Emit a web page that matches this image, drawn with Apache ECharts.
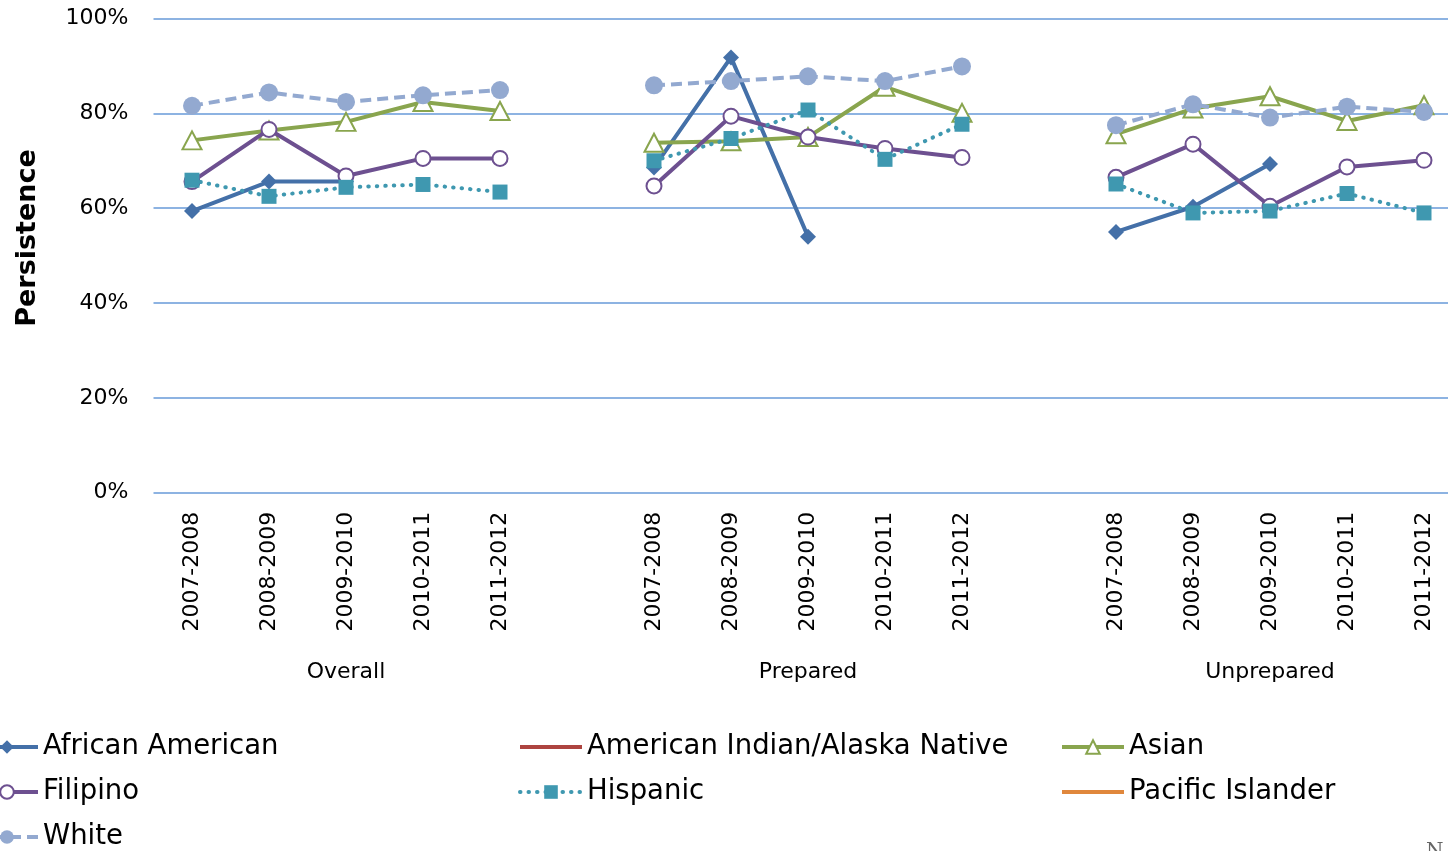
<!DOCTYPE html>
<html>
<head>
<meta charset="utf-8">
<script src="https://cdn.jsdelivr.net/npm/echarts@6/dist/echarts.min.js"></script>
<style>html,body{margin:0;padding:0;background:#fff;}#c{width:1448px;height:851px;}</style>
</head>
<body>
<div id="c"></div>
<script>
// ---- data ----
const groups = ['Overall', 'Prepared', 'Unprepared'];
const years = ['2007-2008', '2008-2009', '2009-2010', '2010-2011', '2011-2012'];
const yTicks = [0, 20, 40, 60, 80, 100];

// values in %, per group (Overall, Prepared, Unprepared)
const africanAmerican = [
  [59.4, 65.6, 65.6, null, null],
  [68.6, 91.8, 54.0, null, null],
  [55.0, 60.3, 69.3, null, null]
];
const americanIndian = [
  [null, null, null, null, null],
  [null, null, null, null, null],
  [null, null, null, null, null]
];
const asian = [
  [74.3, 76.4, 78.2, 82.4, 80.5],
  [73.8, 74.1, 75.0, 85.6, 80.1],
  [75.6, 81.0, 83.6, 78.4, 81.7]
];
const filipino = [
  [65.6, 76.6, 66.8, 70.5, 70.5],
  [64.7, 79.4, 75.0, 72.6, 70.7],
  [66.5, 73.5, 60.4, 68.7, 70.1]
];
const hispanic = [
  [65.9, 62.5, 64.4, 65.0, 63.4],
  [70.0, 74.7, 80.7, 70.3, 77.7],
  [65.1, 59.0, 59.4, 63.1, 59.0]
];
const pacificIslander = [
  [null, null, null, null, null],
  [null, null, null, null, null],
  [null, null, null, null, null]
];
const white = [
  [81.6, 84.4, 82.4, 83.8, 84.9],
  [85.9, 86.8, 87.8, 86.8, 89.9],
  [77.5, 81.9, 79.1, 81.4, 80.3]
];

// ---- build category axis with a blank slot between groups ----
const categories = [];
const groupLabels = [];
groups.forEach((g, gi) => {
  years.forEach((y, yi) => {
    categories.push(y);
    groupLabels.push(yi === Math.floor(years.length / 2) ? g : '');
  });
  if (gi < groups.length - 1) { categories.push(''); groupLabels.push(''); }
});
function flat(arr) {
  const out = [];
  arr.forEach((grp, gi) => {
    grp.forEach(v => out.push(v));
    if (gi < arr.length - 1) out.push(null);
  });
  return out;
}

const FONT = 'DejaVu Sans';
const C = {
  aa: '#4470a8', ai: '#ad4440', as: '#89a54e', fi: '#6d5090',
  hi: '#3f98b0', pi: '#e0873c', wh: '#93a9d0'
};

const chart = echarts.init(document.getElementById('c'), null, {renderer: 'canvas'});
const LW = 4;
const series = [
  {name: 'African American', data: flat(africanAmerican), color: C.aa, symbol: 'diamond', symbolSize: 16,
   lineStyle: {width: LW, color: C.aa}, itemStyle: {color: C.aa}, z: 1},
  {name: 'American Indian/Alaska Native', data: flat(americanIndian), color: C.ai, symbol: 'none',
   lineStyle: {width: LW, color: C.ai}, itemStyle: {color: C.ai}, z: 2},
  {name: 'Asian', data: flat(asian), color: C.as, symbol: 'triangle', symbolSize: [19, 18],
   lineStyle: {width: LW, color: C.as}, itemStyle: {color: '#fff', borderColor: C.as, borderWidth: 2}, z: 3},
  {name: 'Filipino', data: flat(filipino), color: C.fi, symbol: 'circle', symbolSize: 15,
   lineStyle: {width: LW, color: C.fi}, itemStyle: {color: '#fff', borderColor: C.fi, borderWidth: 2}, z: 4},
  {name: 'Hispanic', data: flat(hispanic), color: C.hi, symbol: 'rect', symbolSize: 15,
   lineStyle: {width: LW, color: C.hi, type: [0.5, 8], cap: 'round'}, itemStyle: {color: C.hi}, z: 5},
  {name: 'Pacific Islander', data: flat(pacificIslander), color: C.pi, symbol: 'none',
   lineStyle: {width: LW, color: C.pi}, itemStyle: {color: C.pi}, z: 6},
  {name: 'White', data: flat(white), color: C.wh, symbol: 'circle', symbolSize: 18,
   lineStyle: {width: LW, color: C.wh, type: [11, 6]}, itemStyle: {color: C.wh}, z: 7}
].map(s => Object.assign({type: 'line', connectNulls: false, showSymbol: true, animation: false,
  emphasis: {disabled: true}}, s));

function legendCol(left, names) {
  return {
    orient: 'vertical', left: left, top: 733, height: 160, padding: 0,
    itemWidth: 62, itemHeight: 17, itemGap: 17,
    selectedMode: false,
    lineStyle: {width: 4},
    data: names.map(n => (n === 'American Indian/Alaska Native' || n === 'Pacific Islander')
      ? {name: n, itemStyle: {opacity: 0}} : n),
    textStyle: {fontFamily: FONT, fontSize: 27.5, color: '#000', lineHeight: 28}
  };
}

chart.setOption({
  backgroundColor: '#fff',
  animation: false,
  textStyle: {fontFamily: FONT},
  grid: {left: 153.5, width: 1309, top: 18.5, bottom: 358.3, containLabel: false, outerBoundsMode: 'none'},
  xAxis: [
    {type: 'category', data: categories, boundaryGap: true,
     axisLine: {show: false}, axisTick: {show: false},
     axisLabel: {interval: 0, rotate: 90, margin: 19, fontFamily: FONT, fontSize: 22, color: '#000'}},
    {type: 'category', data: groupLabels, boundaryGap: true, position: 'bottom',
     axisLine: {show: false}, axisTick: {show: false}, splitLine: {show: false},
     axisLabel: {interval: 0, margin: 169, fontFamily: FONT, fontSize: 22, color: '#000'}}
  ],
  yAxis: {
    type: 'value', min: yTicks[0], max: yTicks[yTicks.length - 1], interval: 20,
    axisLine: {show: false}, axisTick: {show: false},
    axisLabel: {margin: 25, fontFamily: FONT, fontSize: 22, color: '#000', formatter: '{value}%'},
    splitLine: {lineStyle: {color: '#8db3e2', width: 2}}
  },
  legend: [
    legendCol(-26, ['African American', 'Filipino', 'White']),
    legendCol(518, ['American Indian/Alaska Native', 'Hispanic']),
    legendCol(1060, ['Asian', 'Pacific Islander'])
  ],
  graphic: [
    {type: 'text', x: 28, y: 238, rotation: Math.PI / 2, silent: true,
     style: {text: 'Persistence', fontFamily: FONT, fontSize: 27, fontWeight: 'bold', fill: '#000',
             align: 'center', verticalAlign: 'middle'}},
    {type: 'text', x: 1426, y: 842, silent: true,
     style: {text: 'N', fontFamily: 'DejaVu Serif', fontSize: 20, fill: '#666', align: 'left', verticalAlign: 'top'}}
  ],
  series: series
});
</script>
</body>
</html>
